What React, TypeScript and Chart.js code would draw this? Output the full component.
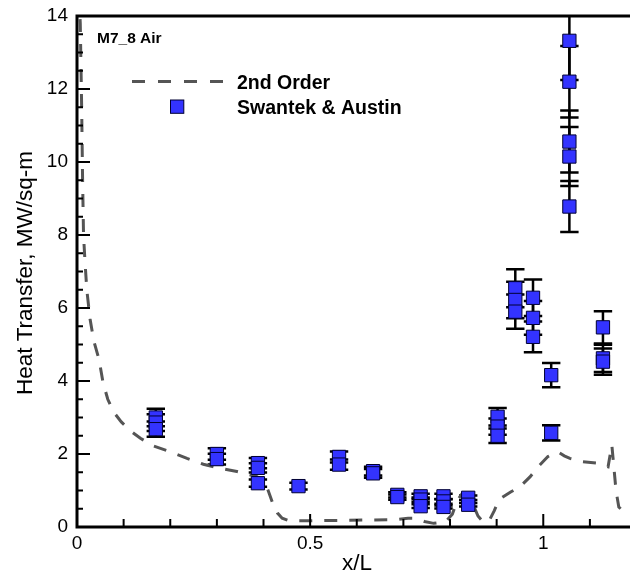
import React, { useEffect, useRef } from "react";
import { Chart, registerables } from "chart.js";

Chart.register(...registerables);

// Experimental data (Swantek & Austin): x/L, heat transfer (MW/sq-m), error half-height
const expX = [
  0.169, 0.169, 0.169,
  0.300, 0.300,
  0.388, 0.388, 0.388,
  0.475,
  0.562, 0.562,
  0.635, 0.635,
  0.687, 0.687,
  0.737, 0.737, 0.737,
  0.786, 0.786, 0.786,
  0.839, 0.839,
  0.902, 0.902, 0.902,
  0.940, 0.940, 0.940,
  0.978, 0.978, 0.978,
  1.017, 1.017,
  1.056, 1.056, 1.056, 1.056, 1.056,
  1.128, 1.128, 1.128,
];
const expY = [
  3.00, 2.86, 2.68,
  2.00, 1.86,
  1.75, 1.62, 1.20,
  1.12,
  1.92, 1.71,
  1.53, 1.47,
  0.88, 0.82,
  0.84, 0.75, 0.57,
  0.84, 0.70, 0.55,
  0.80, 0.61,
  3.02, 2.75, 2.50,
  6.54, 6.22, 5.90,
  6.28, 5.73, 5.21,
  4.16, 2.58,
  13.32, 12.20, 10.56, 10.15, 8.78,
  5.47, 4.62, 4.53,
];
const expErr = [
  0.24, 0.23, 0.21,
  0.16, 0.15,
  0.14, 0.13, 0.10,
  0.09,
  0.15, 0.14,
  0.12, 0.12,
  0.07, 0.07,
  0.07, 0.06, 0.05,
  0.07, 0.06, 0.04,
  0.06, 0.05,
  0.24, 0.22, 0.20,
  0.52, 0.50, 0.47,
  0.50, 0.46, 0.42,
  0.33, 0.21,
  1.07, 0.98, 0.85, 0.81, 0.70,
  0.44, 0.37, 0.36,
];

// 2nd order computation
const cfdX = [
  0.004, 0.007, 0.010, 0.012, 0.014, 0.017, 0.021, 0.028, 0.036, 0.047,
  0.056, 0.066, 0.078, 0.095, 0.114, 0.136, 0.164, 0.200, 0.236, 0.271,
  0.300, 0.343, 0.386, 0.400, 0.410, 0.421, 0.430, 0.440, 0.455, 0.480,
  0.550, 0.620, 0.680, 0.710, 0.725, 0.745, 0.765, 0.790, 0.805, 0.815,
  0.825, 0.845, 0.860, 0.872, 0.885, 0.895, 0.905, 0.930, 0.950, 0.972,
  0.989, 1.010, 1.031, 1.045, 1.057, 1.085, 1.115, 1.139, 1.147, 1.151,
  1.156, 1.162, 1.175, 1.186,
];
const cfdY = [
  14.6, 13.8, 11.5, 9.5, 8.0, 7.3, 6.5, 5.7, 5.1, 4.6,
  3.95, 3.5, 3.16, 2.88, 2.64, 2.43, 2.22, 2.06, 1.88, 1.72,
  1.63, 1.52, 1.38, 1.25, 1.00, 0.60, 0.38, 0.24, 0.17, 0.17,
  0.18, 0.19, 0.20, 0.24, 0.24, 0.15, 0.10, 0.14, 0.35, 0.72,
  0.90, 0.75, 0.30, 0.12, 0.20, 0.45, 0.75, 0.96, 1.10, 1.38,
  1.65, 1.93, 2.06, 1.95, 1.88, 1.79, 1.75, 1.65, 2.25, 1.70,
  1.00, 0.55, 0.38, 0.30,
];

const xMajorTicks = [0, 0.5, 1];
const xMinorTicks = [0.1, 0.2, 0.3, 0.4, 0.6, 0.7, 0.8, 0.9, 1.1];
const xTickLabels = ["0", "0.5", "1"];
const yMajorTicks = [0, 2, 4, 6, 8, 10, 12, 14];

const FONT = "'Liberation Sans', Arial, Helvetica, sans-serif";
const MARKER_FILL = "#3333ff";
const MARKER_EDGE = "#000033";
const LINE_COLOR = "#555555";

export default function App() {
  const ref = useRef<HTMLCanvasElement>(null);

  useEffect(() => {
    document.body.style.margin = "0";
    const canvas = ref.current;
    if (!canvas) return;

    const errorBars = {
      id: "errorBars",
      beforeDatasetsDraw(chart: any) {
        const { ctx, chartArea: a, scales } = chart;
        const xs = scales.x;
        const ys = scales.y;
        ctx.save();
        ctx.beginPath();
        ctx.rect(a.left, a.top, a.right - a.left, a.bottom - a.top);
        ctx.clip();
        ctx.strokeStyle = "#000";
        ctx.lineWidth = 2.5;
        for (let i = 0; i < expX.length; i++) {
          const px = xs.getPixelForValue(expX[i]);
          const t = ys.getPixelForValue(expY[i] + expErr[i]);
          const b = ys.getPixelForValue(expY[i] - expErr[i]);
          ctx.beginPath();
          ctx.moveTo(px, t);
          ctx.lineTo(px, b);
          ctx.moveTo(px - 9.2, t);
          ctx.lineTo(px + 9.2, t);
          ctx.moveTo(px - 9.2, b);
          ctx.lineTo(px + 9.2, b);
          ctx.stroke();
        }
        ctx.restore();
      },
    };

    const frame = {
      id: "frame",
      afterDraw(chart: any) {
        const { ctx, chartArea: a, scales } = chart;
        const xs = scales.x;
        const ys = scales.y;
        ctx.save();
        ctx.strokeStyle = "#000";
        // ticks (inward)
        ctx.lineWidth = 2;
        ctx.beginPath();
        for (const v of xMajorTicks) {
          const px = xs.getPixelForValue(v);
          ctx.moveTo(px, a.bottom);
          ctx.lineTo(px, a.bottom - 13);
        }
        for (const v of xMinorTicks) {
          const px = xs.getPixelForValue(v);
          ctx.moveTo(px, a.bottom);
          ctx.lineTo(px, a.bottom - 8);
        }
        for (let v = 0; v <= 14; v += 0.5) {
          const py = ys.getPixelForValue(v);
          const major = yMajorTicks.indexOf(v) >= 0;
          ctx.moveTo(a.left, py);
          ctx.lineTo(a.left + (major ? 13 : 6), py);
        }
        ctx.stroke();
        // frame lines
        ctx.lineWidth = 3;
        ctx.beginPath();
        ctx.moveTo(a.left, a.top - 1.5);
        ctx.lineTo(a.left, a.bottom + 1.5);
        ctx.moveTo(a.left - 1.5, a.bottom);
        ctx.lineTo(a.right, a.bottom);
        ctx.moveTo(a.left - 1.5, a.top);
        ctx.lineTo(a.right, a.top);
        ctx.stroke();

        // axis titles
        ctx.fillStyle = "#000";
        ctx.font = `22.5px ${FONT}`;
        ctx.textAlign = "center";
        ctx.textBaseline = "alphabetic";
        ctx.fillText("x/L", 357, 570);
        ctx.save();
        ctx.translate(32, 273);
        ctx.rotate(-Math.PI / 2);
        ctx.fillText("Heat Transfer, MW/sq-m", 0, 0);
        ctx.restore();

        // annotation
        ctx.textAlign = "left";
        ctx.font = `bold 15.5px ${FONT}`;
        ctx.fillText("M7_8 Air", 97, 42.5);

        // legend
        ctx.strokeStyle = LINE_COLOR;
        ctx.lineWidth = 3;
        ctx.setLineDash([13, 13]);
        ctx.beginPath();
        ctx.moveTo(132, 81.5);
        ctx.lineTo(223, 81.5);
        ctx.stroke();
        ctx.setLineDash([]);
        ctx.fillStyle = MARKER_FILL;
        ctx.strokeStyle = MARKER_EDGE;
        ctx.lineWidth = 1;
        ctx.fillRect(170.5, 100, 13.3, 13.3);
        ctx.strokeRect(170.5, 100, 13.3, 13.3);
        ctx.fillStyle = "#000";
        ctx.font = `bold 19.5px ${FONT}`;
        ctx.fillText("2nd Order", 237, 88.5);
        ctx.fillText("Swantek & Austin", 237, 113.5);
        ctx.restore();
      },
    };

    const chart = new Chart(canvas, {
      type: "scatter",
      data: {
        datasets: [
          {
            label: "Swantek & Austin",
            data: expX.map((x, i) => ({ x, y: expY[i] })),
            pointStyle: "rect",
            pointRadius: 9.4,
            pointHoverRadius: 9.4,
            backgroundColor: MARKER_FILL,
            borderColor: MARKER_EDGE,
            borderWidth: 1,
            showLine: false,
          },
          {
            type: "line",
            label: "2nd Order",
            data: cfdX.map((x, i) => ({ x, y: cfdY[i] })),
            borderColor: LINE_COLOR,
            borderWidth: 3,
            borderDash: [13, 12],
            pointRadius: 0,
            fill: false,
            tension: 0,
          } as any,
        ],
      },
      options: {
        responsive: false,
        animation: false,
        events: [],
        layout: { autoPadding: false, padding: { top: 16, right: 0, left: 0, bottom: 0 } },
        plugins: { legend: { display: false }, tooltip: { enabled: false } },
        scales: {
          x: {
            type: "linear",
            min: 0,
            max: 1.186,
            grid: { display: false, drawTicks: false },
            border: { display: false },
            ticks: {
              stepSize: 0.1,
              autoSkip: false,
              maxRotation: 0,
              padding: 5,
              color: "#000",
              font: { family: FONT, size: 19 },
              callback: (v: any) => {
                const n = Number(v);
                for (let k = 0; k < xMajorTicks.length; k++) {
                  if (Math.abs(n - xMajorTicks[k]) < 1e-6) return xTickLabels[k];
                }
                return "";
              },
            },
            afterFit: (s: any) => {
              s.height = 51;
              s.paddingLeft = 0;
              s.paddingRight = 0;
            },
          },
          y: {
            type: "linear",
            min: 0,
            max: 14,
            grid: { display: false, drawTicks: false },
            border: { display: false },
            ticks: {
              stepSize: 2,
              autoSkip: false,
              padding: 9,
              color: "#000",
              font: { family: FONT, size: 19 },
            },
            afterFit: (s: any) => {
              s.width = 77;
              s.paddingTop = 0;
              s.paddingBottom = 0;
            },
          },
        },
      },
      plugins: [errorBars, frame],
    });

    return () => chart.destroy();
  }, []);

  return (
    <canvas
      ref={ref}
      width={630}
      height={578}
      style={{ display: "block", width: 630, height: 578 }}
    />
  );
}
